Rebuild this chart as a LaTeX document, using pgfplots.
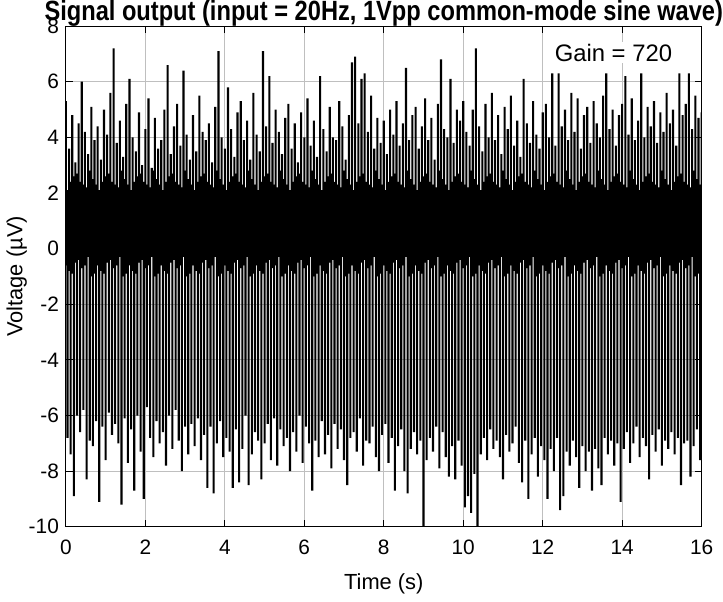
\documentclass[border=0pt]{standalone}
\usepackage{fontspec}
\setmainfont{Liberation Sans}
\usepackage{pgfplots}
\usepackage{pgfplotstable}
\pgfplotsset{compat=1.18}

% output samples: three values per time step of 0.04 s
% (level, crest or trough, level), crests and troughs alternate
\pgfplotstableread[header=false, row sep=\\]{
-0.6\\ 5.3\\ -0.3\\ 2.1\\ -6.8\\ 1.8\\ -0.2\\ 3.6\\ -0.8\\ 1.6\\ -7.4\\ 2.4\\ -0.9\\ 4.8\\ 0.0\\ 2.6\\ -8.9\\ 1.9\\ 0.1\\ 3.1\\ -0.5\\ 1.9\\ -6.0\\ 2.7\\ -0.4\\ 4.5\\ 0.2\\ 2.4\\ -6.6\\ 1.6\\
-0.7\\ 6.0\\ -0.1\\ 1.5\\ -5.8\\ 2.3\\ 0.3\\ 4.2\\ -0.6\\ 2.2\\ -8.3\\ 2.0\\ -0.3\\ 3.4\\ 0.1\\ 2.8\\ -6.9\\ 1.7\\ -1.0\\ 5.1\\ -0.4\\ 1.8\\ -7.1\\ 2.5\\ 0.0\\ 3.9\\ -0.9\\ 2.3\\ -6.2\\ 2.1\\
-0.6\\ 4.4\\ -0.3\\ 2.1\\ -9.1\\ 1.8\\ -0.2\\ 3.2\\ -0.8\\ 1.6\\ -6.4\\ 2.4\\ -0.9\\ 5.0\\ 0.0\\ 2.6\\ -7.6\\ 1.9\\ 0.1\\ 4.1\\ -0.5\\ 1.9\\ -5.9\\ 2.7\\ -0.4\\ 5.6\\ 0.2\\ 2.4\\ -6.7\\ 1.6\\
-0.7\\ 7.2\\ -0.1\\ 1.5\\ -6.3\\ 2.3\\ 0.3\\ 3.8\\ -0.6\\ 2.2\\ -7.0\\ 2.0\\ -0.3\\ 4.6\\ 0.1\\ 2.8\\ -9.2\\ 1.7\\ -1.0\\ 3.3\\ -0.4\\ 1.8\\ -6.1\\ 2.5\\ 0.0\\ 5.2\\ -0.9\\ 2.3\\ -7.7\\ 2.1\\
-0.6\\ 6.1\\ -0.3\\ 2.1\\ -6.5\\ 1.8\\ -0.2\\ 4.0\\ -0.8\\ 1.6\\ -8.7\\ 2.4\\ -0.9\\ 3.5\\ 0.0\\ 2.6\\ -6.0\\ 1.9\\ 0.1\\ 4.9\\ -0.5\\ 1.9\\ -7.3\\ 2.7\\ -0.4\\ 3.0\\ 0.2\\ 2.4\\ -9.0\\ 1.6\\
-0.7\\ 4.3\\ -0.1\\ 1.5\\ -5.7\\ 2.3\\ 0.3\\ 5.4\\ -0.6\\ 2.2\\ -6.8\\ 2.0\\ -0.3\\ 2.9\\ 0.1\\ 2.8\\ -7.5\\ 1.7\\ -1.0\\ 4.7\\ -0.4\\ 1.8\\ -6.2\\ 2.5\\ 0.0\\ 3.6\\ -0.9\\ 2.3\\ -7.0\\ 2.1\\
-0.6\\ 3.9\\ -0.3\\ 2.1\\ -6.6\\ 1.8\\ -0.2\\ 5.0\\ -0.8\\ 1.6\\ -7.8\\ 2.4\\ -0.9\\ 6.6\\ 0.0\\ 2.6\\ -6.0\\ 1.9\\ 0.1\\ 3.4\\ -0.5\\ 1.9\\ -7.2\\ 2.7\\ -0.4\\ 4.4\\ 0.2\\ 2.4\\ -5.8\\ 1.6\\
-0.7\\ 5.2\\ -0.1\\ 1.5\\ -6.9\\ 2.3\\ 0.3\\ 3.7\\ -0.6\\ 2.2\\ -8.0\\ 2.0\\ -0.3\\ 6.4\\ 0.1\\ 2.8\\ -6.4\\ 1.7\\ -1.0\\ 4.1\\ -0.4\\ 1.8\\ -7.4\\ 2.5\\ 0.0\\ 3.2\\ -0.9\\ 2.3\\ -6.3\\ 2.1\\
-0.6\\ 4.8\\ -0.3\\ 2.1\\ -7.1\\ 1.8\\ -0.2\\ 3.5\\ -0.8\\ 1.6\\ -6.1\\ 2.4\\ -0.9\\ 5.5\\ 0.0\\ 2.6\\ -7.6\\ 1.9\\ 0.1\\ 4.2\\ -0.5\\ 1.9\\ -6.7\\ 2.7\\ -0.4\\ 3.9\\ 0.2\\ 2.4\\ -8.6\\ 1.6\\
-0.7\\ 4.5\\ -0.1\\ 1.5\\ -6.4\\ 2.3\\ 0.3\\ 3.1\\ -0.6\\ 2.2\\ -8.8\\ 2.0\\ -0.3\\ 5.1\\ 0.1\\ 2.8\\ -7.0\\ 1.7\\ -1.0\\ 7.1\\ -0.4\\ 1.8\\ -6.2\\ 2.5\\ 0.0\\ 4.0\\ -0.9\\ 2.3\\ -7.5\\ 2.1\\
-0.6\\ 3.6\\ -0.3\\ 2.1\\ -6.8\\ 1.8\\ -0.2\\ 5.8\\ -0.8\\ 1.6\\ -7.3\\ 2.4\\ -0.9\\ 4.3\\ 0.0\\ 2.6\\ -8.6\\ 1.9\\ 0.1\\ 3.3\\ -0.5\\ 1.9\\ -6.5\\ 2.7\\ -0.4\\ 4.9\\ 0.2\\ 2.4\\ -8.4\\ 1.6\\
-0.7\\ 5.3\\ -0.1\\ 1.5\\ -7.2\\ 2.3\\ 0.3\\ 3.9\\ -0.6\\ 2.2\\ -6.0\\ 2.0\\ -0.3\\ 4.6\\ 0.1\\ 2.8\\ -8.5\\ 1.7\\ -1.0\\ 3.2\\ -0.4\\ 1.8\\ -7.4\\ 2.5\\ 0.0\\ 5.6\\ -0.9\\ 2.3\\ -6.6\\ 2.1\\
-0.6\\ 4.1\\ -0.3\\ 2.1\\ -6.9\\ 1.8\\ -0.2\\ 3.5\\ -0.8\\ 1.6\\ -8.3\\ 2.4\\ -0.9\\ 7.1\\ 0.0\\ 2.6\\ -7.0\\ 1.9\\ 0.1\\ 4.4\\ -0.5\\ 1.9\\ -6.3\\ 2.7\\ -0.4\\ 6.2\\ 0.2\\ 2.4\\ -7.6\\ 1.6\\
-0.7\\ 3.8\\ -0.1\\ 1.5\\ -6.1\\ 2.3\\ 0.3\\ 5.0\\ -0.6\\ 2.2\\ -7.8\\ 2.0\\ -0.3\\ 4.2\\ 0.1\\ 2.8\\ -6.5\\ 1.7\\ -1.0\\ 3.4\\ -0.4\\ 1.8\\ -7.1\\ 2.5\\ 0.0\\ 4.7\\ -0.9\\ 2.3\\ -6.8\\ 2.1\\
-0.6\\ 5.2\\ -0.3\\ 2.1\\ -8.0\\ 1.8\\ -0.2\\ 3.6\\ -0.8\\ 1.6\\ -6.6\\ 2.4\\ -0.9\\ 4.5\\ 0.0\\ 2.6\\ -7.3\\ 1.9\\ 0.1\\ 3.1\\ -0.5\\ 1.9\\ -6.0\\ 2.7\\ -0.4\\ 4.9\\ 0.2\\ 2.4\\ -7.7\\ 1.6\\
-0.7\\ 4.0\\ -0.1\\ 1.5\\ -6.4\\ 2.3\\ 0.3\\ 5.4\\ -0.6\\ 2.2\\ -7.0\\ 2.0\\ -0.3\\ 3.7\\ 0.1\\ 2.8\\ -8.7\\ 1.7\\ -1.0\\ 4.6\\ -0.4\\ 1.8\\ -6.9\\ 2.5\\ 0.0\\ 3.3\\ -0.9\\ 2.3\\ -7.5\\ 2.1\\
-0.6\\ 6.2\\ -0.3\\ 2.1\\ -6.2\\ 1.8\\ -0.2\\ 4.3\\ -0.8\\ 1.6\\ -7.4\\ 2.4\\ -0.9\\ 3.5\\ 0.0\\ 2.6\\ -6.7\\ 1.9\\ 0.1\\ 5.1\\ -0.5\\ 1.9\\ -7.9\\ 2.7\\ -0.4\\ 4.0\\ 0.2\\ 2.4\\ -6.3\\ 1.6\\
-0.7\\ 3.9\\ -0.1\\ 1.5\\ -7.2\\ 2.3\\ 0.3\\ 5.3\\ -0.6\\ 2.2\\ -6.5\\ 2.0\\ -0.3\\ 4.4\\ 0.1\\ 2.8\\ -7.6\\ 1.7\\ -1.0\\ 3.2\\ -0.4\\ 1.8\\ -8.5\\ 2.5\\ 0.0\\ 4.8\\ -0.9\\ 2.3\\ -6.8\\ 2.1\\
-0.6\\ 6.7\\ -0.3\\ 2.1\\ -6.6\\ 1.8\\ -0.2\\ 6.9\\ -0.8\\ 1.6\\ -7.3\\ 2.4\\ -0.9\\ 4.5\\ 0.0\\ 2.6\\ -6.1\\ 1.9\\ 0.1\\ 6.1\\ -0.5\\ 1.9\\ -7.8\\ 2.7\\ -0.4\\ 6.3\\ 0.2\\ 2.4\\ -6.9\\ 1.6\\
-0.7\\ 4.2\\ -0.1\\ 1.5\\ -7.0\\ 2.3\\ 0.3\\ 5.5\\ -0.6\\ 2.2\\ -6.4\\ 2.0\\ -0.3\\ 3.6\\ 0.1\\ 2.8\\ -7.5\\ 1.7\\ -1.0\\ 4.7\\ -0.4\\ 1.8\\ -8.0\\ 2.5\\ 0.0\\ 3.8\\ -0.9\\ 2.3\\ -6.7\\ 2.1\\
-0.6\\ 4.6\\ -0.3\\ 2.1\\ -6.3\\ 1.8\\ -0.2\\ 3.4\\ -0.8\\ 1.6\\ -7.7\\ 2.4\\ -0.9\\ 5.0\\ 0.0\\ 2.6\\ -6.8\\ 1.9\\ 0.1\\ 4.1\\ -0.5\\ 1.9\\ -8.7\\ 2.7\\ -0.4\\ 5.3\\ 0.2\\ 2.4\\ -7.1\\ 1.6\\
-0.7\\ 3.7\\ -0.1\\ 1.5\\ -6.5\\ 2.3\\ 0.3\\ 4.5\\ -0.6\\ 2.2\\ -8.0\\ 2.0\\ -0.3\\ 6.5\\ 0.1\\ 2.8\\ -8.8\\ 1.7\\ -1.0\\ 3.9\\ -0.4\\ 1.8\\ -7.2\\ 2.5\\ 0.0\\ 4.8\\ -0.9\\ 2.3\\ -6.6\\ 2.1\\
-0.6\\ 5.1\\ -0.3\\ 2.1\\ -7.4\\ 1.8\\ -0.2\\ 3.6\\ -0.8\\ 1.6\\ -6.9\\ 2.4\\ -0.9\\ 4.4\\ 0.0\\ 2.6\\ -10.0\\ 1.9\\ 0.1\\ 5.4\\ -0.5\\ 1.9\\ -7.6\\ 2.7\\ -0.4\\ 3.9\\ 0.2\\ 2.4\\ -6.8\\ 1.6\\
-0.7\\ 4.7\\ -0.1\\ 1.5\\ -7.3\\ 2.3\\ 0.3\\ 3.2\\ -0.6\\ 2.2\\ -6.4\\ 2.0\\ -0.3\\ 5.2\\ 0.1\\ 2.8\\ -7.9\\ 1.7\\ -1.0\\ 6.8\\ -0.4\\ 1.8\\ -6.6\\ 2.5\\ 0.0\\ 4.3\\ -0.9\\ 2.3\\ -7.5\\ 2.1\\
-0.6\\ 4.0\\ -0.3\\ 2.1\\ -8.2\\ 1.8\\ -0.2\\ 6.1\\ -0.8\\ 1.6\\ -7.1\\ 2.4\\ -0.9\\ 3.8\\ 0.0\\ 2.6\\ -8.3\\ 1.9\\ 0.1\\ 5.0\\ -0.5\\ 1.9\\ -6.9\\ 2.7\\ -0.4\\ 4.6\\ 0.2\\ 2.4\\ -7.8\\ 1.6\\
-0.7\\ 5.3\\ -0.1\\ 1.5\\ -9.3\\ 2.3\\ 0.3\\ 4.2\\ -0.6\\ 2.2\\ -8.9\\ 2.0\\ -0.3\\ 3.7\\ 0.1\\ 2.8\\ -9.5\\ 1.7\\ -1.0\\ 5.0\\ -0.4\\ 1.8\\ -8.1\\ 2.5\\ 0.0\\ 7.2\\ -0.9\\ 2.3\\ -10.0\\ 2.1\\
-0.6\\ 4.4\\ -0.3\\ 2.1\\ -7.4\\ 1.8\\ -0.2\\ 3.5\\ -0.8\\ 1.6\\ -6.8\\ 2.4\\ -0.9\\ 5.2\\ 0.0\\ 2.6\\ -7.6\\ 1.9\\ 0.1\\ 4.0\\ -0.5\\ 1.9\\ -6.5\\ 2.7\\ -0.4\\ 5.6\\ 0.2\\ 2.4\\ -7.2\\ 1.6\\
-0.7\\ 3.9\\ -0.1\\ 1.5\\ -6.9\\ 2.3\\ 0.3\\ 4.8\\ -0.6\\ 2.2\\ -7.5\\ 2.0\\ -0.3\\ 3.4\\ 0.1\\ 2.8\\ -8.3\\ 1.7\\ -1.0\\ 5.1\\ -0.4\\ 1.8\\ -6.7\\ 2.5\\ 0.0\\ 4.3\\ -0.9\\ 2.3\\ -7.3\\ 2.1\\
-0.6\\ 5.5\\ -0.3\\ 2.1\\ -7.0\\ 1.8\\ -0.2\\ 3.7\\ -0.8\\ 1.6\\ -6.4\\ 2.4\\ -0.9\\ 4.6\\ 0.0\\ 2.6\\ -7.7\\ 1.9\\ 0.1\\ 3.3\\ -0.5\\ 1.9\\ -8.4\\ 2.7\\ -0.4\\ 6.1\\ 0.2\\ 2.4\\ -6.9\\ 1.6\\
-0.7\\ 4.5\\ -0.1\\ 1.5\\ -9.0\\ 2.3\\ 0.3\\ 3.8\\ -0.6\\ 2.2\\ -7.4\\ 2.0\\ -0.3\\ 5.3\\ 0.1\\ 2.8\\ -6.8\\ 1.7\\ -1.0\\ 4.1\\ -0.4\\ 1.8\\ -8.2\\ 2.5\\ 0.0\\ 3.6\\ -0.9\\ 2.3\\ -7.1\\ 2.1\\
-0.6\\ 4.9\\ -0.3\\ 2.1\\ -7.6\\ 1.8\\ -0.2\\ 5.2\\ -0.8\\ 1.6\\ -9.0\\ 2.4\\ -0.9\\ 4.0\\ 0.0\\ 2.6\\ -7.2\\ 1.9\\ 0.1\\ 6.3\\ -0.5\\ 1.9\\ -8.0\\ 2.7\\ -0.4\\ 3.7\\ 0.2\\ 2.4\\ -6.8\\ 1.6\\
-0.7\\ 6.3\\ -0.1\\ 1.5\\ -9.4\\ 2.3\\ 0.3\\ 4.4\\ -0.6\\ 2.2\\ -8.9\\ 2.0\\ -0.3\\ 5.0\\ 0.1\\ 2.8\\ -7.3\\ 1.7\\ -1.0\\ 3.9\\ -0.4\\ 1.8\\ -7.8\\ 2.5\\ 0.0\\ 5.6\\ -0.9\\ 2.3\\ -6.9\\ 2.1\\
-0.6\\ 4.2\\ -0.3\\ 2.1\\ -7.5\\ 1.8\\ -0.2\\ 5.4\\ -0.8\\ 1.6\\ -8.6\\ 2.4\\ -0.9\\ 3.6\\ 0.0\\ 2.6\\ -7.1\\ 1.9\\ 0.1\\ 4.8\\ -0.5\\ 1.9\\ -8.0\\ 2.7\\ -0.4\\ 5.1\\ 0.2\\ 2.4\\ -7.3\\ 1.6\\
-0.7\\ 3.8\\ -0.1\\ 1.5\\ -8.7\\ 2.3\\ 0.3\\ 5.3\\ -0.6\\ 2.2\\ -7.2\\ 2.0\\ -0.3\\ 4.5\\ 0.1\\ 2.8\\ -7.9\\ 1.7\\ -1.0\\ 4.0\\ -0.4\\ 1.8\\ -8.5\\ 2.5\\ 0.0\\ 5.5\\ -0.9\\ 2.3\\ -6.8\\ 2.1\\
-0.6\\ 6.3\\ -0.3\\ 2.1\\ -7.4\\ 1.8\\ -0.2\\ 4.3\\ -0.8\\ 1.6\\ -6.9\\ 2.4\\ -0.9\\ 5.0\\ 0.0\\ 2.6\\ -7.8\\ 1.9\\ 0.1\\ 3.7\\ -0.5\\ 1.9\\ -7.0\\ 2.7\\ -0.4\\ 4.8\\ 0.2\\ 2.4\\ -9.1\\ 1.6\\
-0.7\\ 5.2\\ -0.1\\ 1.5\\ -7.2\\ 2.3\\ 0.3\\ 6.2\\ -0.6\\ 2.2\\ -6.6\\ 2.0\\ -0.3\\ 4.1\\ 0.1\\ 2.8\\ -7.7\\ 1.7\\ -1.0\\ 5.4\\ -0.4\\ 1.8\\ -7.0\\ 2.5\\ 0.0\\ 3.9\\ -0.9\\ 2.3\\ -6.4\\ 2.1\\
-0.6\\ 4.6\\ -0.3\\ 2.1\\ -7.5\\ 1.8\\ -0.2\\ 6.3\\ -0.8\\ 1.6\\ -6.8\\ 2.4\\ -0.9\\ 4.0\\ 0.0\\ 2.6\\ -7.1\\ 1.9\\ 0.1\\ 5.1\\ -0.5\\ 1.9\\ -8.3\\ 2.7\\ -0.4\\ 4.4\\ 0.2\\ 2.4\\ -6.7\\ 1.6\\
-0.7\\ 5.3\\ -0.1\\ 1.5\\ -7.3\\ 2.3\\ 0.3\\ 3.8\\ -0.6\\ 2.2\\ -6.5\\ 2.0\\ -0.3\\ 4.9\\ 0.1\\ 2.8\\ -7.8\\ 1.7\\ -1.0\\ 4.2\\ -0.4\\ 1.8\\ -6.9\\ 2.5\\ 0.0\\ 5.6\\ -0.9\\ 2.3\\ -7.2\\ 2.1\\
-0.6\\ 4.5\\ -0.3\\ 2.1\\ -6.6\\ 1.8\\ -0.2\\ 5.0\\ -0.8\\ 1.6\\ -7.4\\ 2.4\\ -0.9\\ 3.7\\ 0.0\\ 2.6\\ -6.8\\ 1.9\\ 0.1\\ 6.3\\ -0.5\\ 1.9\\ -8.5\\ 2.7\\ -0.4\\ 4.8\\ 0.2\\ 2.4\\ -7.0\\ 1.6\\
-0.7\\ 5.2\\ -0.1\\ 1.5\\ -6.9\\ 2.3\\ 0.3\\ 6.3\\ -0.6\\ 2.2\\ -8.2\\ 2.0\\ -0.3\\ 4.3\\ 0.1\\ 2.8\\ -7.1\\ 1.7\\ -1.0\\ 5.5\\ -0.4\\ 1.8\\ -6.5\\ 2.5\\ 0.0\\ 4.7\\ -0.9\\ 2.3\\ -7.6\\ 2.1\\
-0.5\\ 4.9\\ -0.2\\
}\signal

\begin{document}
\begin{tikzpicture}
\begin{axis}[
    scale only axis,
    width=320pt, height=252pt,
    xmin=0, xmax=16, ymin=-10, ymax=8,
    xtick={0,2,...,16}, ytick={-10,-8,...,8},
    tick align=inside,
    major tick length=3.5pt,
    tick style={black, line width=0.6pt},
    axis line style={line width=0.6pt},
    grid=major,
    grid style={gray!50, line width=0.6pt},
    ticklabel style={font=\fontsize{10.5}{12}\selectfont},
    xticklabel style={yshift=-3pt},
    /pgf/number format/assume math mode=true,
    xlabel={Time (s)},
    ylabel={Voltage (µV)},
    label style={font=\fontsize{11}{13}\selectfont},
    xlabel style={yshift=-3pt},
    ylabel style={yshift=-6pt},
    title={\scalebox{0.85}[1]{\bfseries Signal output (input = 20Hz, 1Vpp common-mode sine wave)}},
    title style={font=\fontsize{14}{15}\selectfont, at={(0.5,1)}, anchor=base, yshift=-3pt, inner sep=0pt},
]
\addplot[black, line width=1.05pt, line join=bevel]
    table[x expr={floor((\coordindex+0.5)/3)*0.04}, y index=0] {\signal};
\node[font=\fontsize{12}{14}\selectfont, fill=white, inner sep=1pt] at (axis cs:13.78,7.05) {Gain = 720};
\end{axis}
\end{tikzpicture}
\end{document}
